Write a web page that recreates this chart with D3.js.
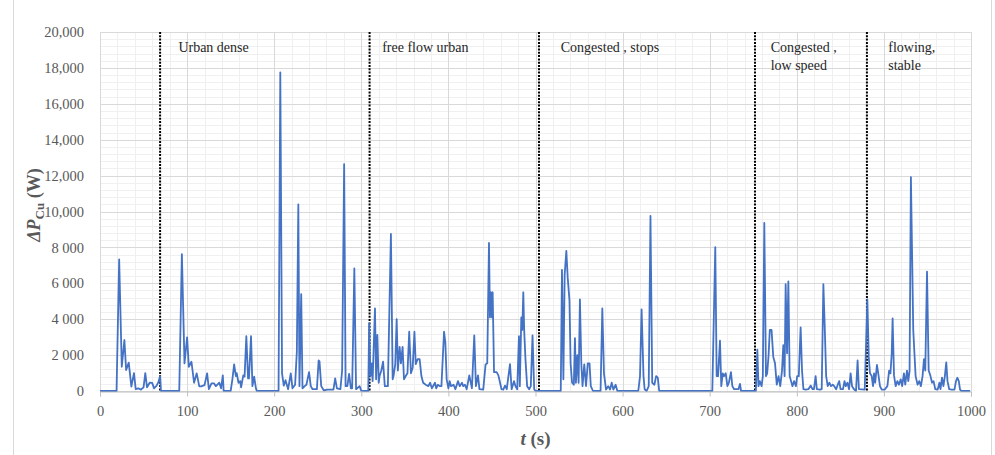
<!DOCTYPE html>
<html>
<head>
<meta charset="utf-8">
<script src="https://cdn.jsdelivr.net/npm/d3@7"></script>
<style>
	body { margin: 0; background: #ffffff; }
	svg { display: block; }
</style>
</head>
<body>
<div id="chart"></div>
<script>
// time (s) and copper loss delta P_Cu (W)
var timeS = [0,19,22,25,28,30,33,36,39,41,44,47,50,52,54,57,60,62,65,67,69,70,
	91,94,97,100,102,105,108,111,114,116,120,123,125,128,131,133,137,139,141,142,150,152,154,156,157,159,161,162,164.5,166,168,170,171,173.4,175,177,179,180,
	205,207,209,211,213,216,219,221,224,226,227.7,229,231,232.5,235,237,240,242,244,249,251,252,254,257,261,268,270,272,276,278,280.3,282,284,286,288,289.5,292,294,298,300,
	308,309,310.5,312,313,315.7,317,318.4,320,321,323,325,327,329,330.5,334,336,337,339,340.6,342,344,345.5,347.4,349,351,353,355,357,359,361,362.5,364.6,367,369,371,374,377,379,381,384.6,386,388,390,392,395,396.5,398,400,401.5,403,406,408,411,413,415.6,417,419,421,424,427,429.7,431.6,434,435.6,440,442.7,444.6,446.6,447.7,448.9,450,450.8,452.4,455.4,457.4,459.3,461,463,465,467,470.7,472.6,475.3,477,479,481,482,483.7,484.8,486,487,488.5,490.4,492.7,494.6,496.6,498.5,500,
	529,530.4,532,533.5,535.4,537,539,540.3,542,544,545.3,546.4,548,549.5,551,552.6,554,556,558,560,562,563.5,566,574.7,576.7,578.6,581,583.5,585.6,587.5,589.4,592,594,618,620,621.8,624,625.3,627.6,630,632,634,636.5,638.5,640.4,642,
	703,706.4,708,709.6,711.8,713.3,715,716.5,718.4,720.3,722,724.4,726,728,730.7,733,734.8,736,753,754.7,756,757.5,759.6,761,762.7,764.6,766,767.6,769,771,773,775,777,779,781,783,784.5,786,787.2,788.8,790.3,791.8,793.4,795,796.9,799,800.4,802.3,804.4,806,807.6,810,813.3,816,818,819.7,821.6,823,826.7,828.6,830.5,832,833.7,835.5,837.4,839.3,841.3,843,845.2,847,848.7,850.2,853,854.8,856.3,858.2,860,861.8,863.4,865.7,868,869.8,871.3,
	878,881,882.6,884,886,887.5,888.7,890,892,893.5,895.5,897.5,901,904,906,907.5,909,910,911.6,913.5,915.5,917.3,919.3,921,923,924.5,926.5,928,929.5,931,933.7,936.4,938.7,940.6,942.5,944.4,946,947.5,949.5,951.4,953.3,955.3,957,959,961.8,963.7,965,966.7,968.3,970,971.6,973,975,977.7,981,982.8,984.3,986,987.4,989,999];

var lossW = [0,0,7330,1350,2840,1170,1580,240,1000,100,150,80,200,1000,200,460,450,150,300,500,820,0,
	0,7630,1540,2990,1350,1630,460,985,260,260,330,985,100,420,420,270,460,150,870,0,0,650,1480,830,1000,460,550,200,870,800,3050,700,700,3050,270,800,150,0,
	0,17750,985,300,600,100,985,150,350,2200,10400,270,5400,150,270,350,1050,270,100,100,1700,1650,270,30,80,80,700,150,100,1140,12640,270,270,950,150,150,6830,100,270,0,
	0,3770,830,1540,550,4600,650,3130,460,830,1140,1630,270,270,270,8750,650,830,1500,4000,1140,2460,1540,2460,650,830,985,3300,985,1300,3300,1500,1770,1770,830,460,350,270,460,150,460,150,350,270,270,3300,2700,650,150,550,270,350,100,550,270,460,270,350,100,870,150,3100,270,870,100,80,1480,1540,8250,4100,5500,4100,5500,1050,1050,870,460,100,80,300,100,1500,100,550,270,100,3050,270,4100,3400,5500,3400,1750,270,100,270,3100,100,0,
	0,6740,650,6500,7810,6300,5050,1540,460,350,2950,460,2000,460,5100,1540,270,1480,270,1540,1540,270,0,0,4600,985,80,270,80,460,80,350,0,0,830,4550,830,100,0,270,9750,460,350,830,740,0,
	0,8020,830,830,2800,270,985,830,985,270,460,1050,270,100,100,100,400,0,0,2300,270,550,270,830,9360,830,985,2000,3400,3400,1900,1540,350,830,270,1140,2550,830,5950,2100,6100,830,550,270,550,270,830,830,3550,1140,100,80,100,300,100,100,830,100,80,100,5950,3700,830,270,460,270,350,270,100,350,550,100,100,550,270,460,100,985,270,100,0,1700,100,
	80,5100,1900,985,830,270,985,460,1450,985,270,80,80,270,1140,985,2100,4050,870,270,550,350,650,270,985,350,1140,550,1140,11920,3400,830,350,550,270,830,1770,1140,6650,1140,870,460,550,100,80,460,100,740,270,830,1600,550,100,80,80,550,740,550,80,0,0];

// axis ticks
var xTicks = [0,100,200,300,400,500,600,700,800,900,1000];
var yTicks = [0,2000,4000,6000,8000,10000,12000,14000,16000,18000,20000];
var yTickLabels = ["0","2 000","4 000","6 000","8 000","10,000","12,000","14,000","16,000","18,000","20,000"];

// driving phases: dotted dividers and their labels
var phaseDividers = [69,309.5,504,752,880.5];
var phaseLabelT = [90,324,529,770,905];
var phaseLabels = [["Urban dense"],["free flow urban"],["Congested , stops"],["Congested ,","low speed"],["flowing,","stable"]];

var width = 995, height = 455;
var svg = d3.select("#chart").append("svg").attr("width", width).attr("height", height);

var x = d3.scaleLinear().domain([0,1000]).range([100,971]);
var y = d3.scaleLinear().domain([0,20000]).range([391,32]);

// outer frame lines of the figure
function drawFrame(){
	svg.append("line").attr("x1",13.5).attr("x2",13.5).attr("y1",0).attr("y2",height).attr("stroke","#d9d9d9");
	svg.append("line").attr("x1",991.5).attr("x2",991.5).attr("y1",0).attr("y2",height).attr("stroke","#d9d9d9");
}

// minor grid (20 s / 400 W) then major grid (100 s / 2000 W)
function drawGrid(){
	var g = svg.append("g");
	g.selectAll(".vminor").data(d3.range(0,1001,20)).enter().append("line")
		.attr("x1",function(d){ return Math.round(x(d))+0.5; }).attr("x2",function(d){ return Math.round(x(d))+0.5; })
		.attr("y1",y(20000)).attr("y2",y(0)).attr("stroke","#f0f0f0");
	g.selectAll(".hminor").data(d3.range(0,20001,400)).enter().append("line")
		.attr("x1",x(0)).attr("x2",x(1000))
		.attr("y1",function(d){ return Math.round(y(d))+0.5; }).attr("y2",function(d){ return Math.round(y(d))+0.5; })
		.attr("stroke","#f0f0f0");
	g.selectAll(".vmajor").data(xTicks).enter().append("line")
		.attr("x1",function(d){ return Math.round(x(d))+0.5; }).attr("x2",function(d){ return Math.round(x(d))+0.5; })
		.attr("y1",y(20000)).attr("y2",y(0)).attr("stroke","#d9d9d9");
	g.selectAll(".hmajor").data(yTicks).enter().append("line")
		.attr("x1",x(0)).attr("x2",x(1000))
		.attr("y1",function(d){ return Math.round(y(d))+0.5; }).attr("y2",function(d){ return Math.round(y(d))+0.5; })
		.attr("stroke","#d9d9d9");
}

function drawAxes(){
	var xAxis = d3.axisBottom(x).tickValues(xTicks).tickSize(5).tickPadding(9).tickFormat(d3.format("d"));
	var gx = svg.append("g").attr("transform","translate(0," + (y(0)+0.5) + ")").call(xAxis);
	gx.select(".domain").attr("stroke","#bfbfbf");
	gx.selectAll(".tick line").attr("stroke","#bfbfbf");
	gx.selectAll("text").attr("font-family","'Liberation Serif', serif").attr("font-size","14.5px").attr("fill","#595959");

	var yAxis = d3.axisLeft(y).tickValues(yTicks).tickSize(0).tickPadding(16)
		.tickFormat(function(d, i){ return yTickLabels[i]; });
	var gy = svg.append("g").attr("transform","translate(" + x(0) + ",0)").call(yAxis);
	gy.select(".domain").remove();
	gy.selectAll("text").attr("font-family","'Liberation Serif', serif").attr("font-size","14.5px").attr("fill","#595959");

	// axis titles
	var xt = svg.append("text").attr("x",x(500)).attr("y",445).attr("text-anchor","middle")
		.attr("font-family","'Liberation Serif', serif").attr("font-size","19px").attr("font-weight","bold").attr("fill","#595959");
	xt.append("tspan").attr("font-style","italic").text("t");
	xt.append("tspan").text(" (s)");

	var yt = svg.append("text").attr("transform","translate(40,205) rotate(-90)").attr("text-anchor","middle")
		.attr("font-family","'Liberation Serif', serif").attr("font-size","18px").attr("font-weight","bold").attr("fill","#595959");
	yt.append("tspan").attr("font-style","italic").text("\u0394P");
	yt.append("tspan").attr("font-size","13px").attr("dy","4").text("Cu");
	yt.append("tspan").attr("dy","-4").text(" (W)");
}

function drawPhases(){
	svg.selectAll(".divider").data(phaseDividers).enter().append("line")
		.attr("x1",function(d){ return x(d); }).attr("x2",function(d){ return x(d); })
		.attr("y1",y(20000)).attr("y2",y(0))
		.attr("stroke","#000000").attr("stroke-width",2).attr("stroke-dasharray","2,1.3");
	var labels = svg.selectAll(".phase").data(phaseLabels).enter().append("text")
		.attr("font-family","'Liberation Serif', serif").attr("font-size","14px").attr("fill","#262626");
	labels.each(function(lines, i){
		var t = d3.select(this);
		lines.forEach(function(line, j){
			t.append("tspan").attr("x",x(phaseLabelT[i])).attr("y",52 + j*18).text(line);
		});
	});
}

function drawSeries(){
	var points = timeS.map(function(t, i){ return [t, lossW[i]]; });
	var line = d3.line().x(function(d){ return x(d[0]); }).y(function(d){ return y(d[1]); });
	svg.append("path").datum(points).attr("d",line)
		.attr("fill","none").attr("stroke","#4472c4").attr("stroke-width",1.8).attr("stroke-linejoin","round");
}

drawFrame();
drawGrid();
drawPhases();
drawSeries();
drawAxes();
</script>
</body>
</html>
